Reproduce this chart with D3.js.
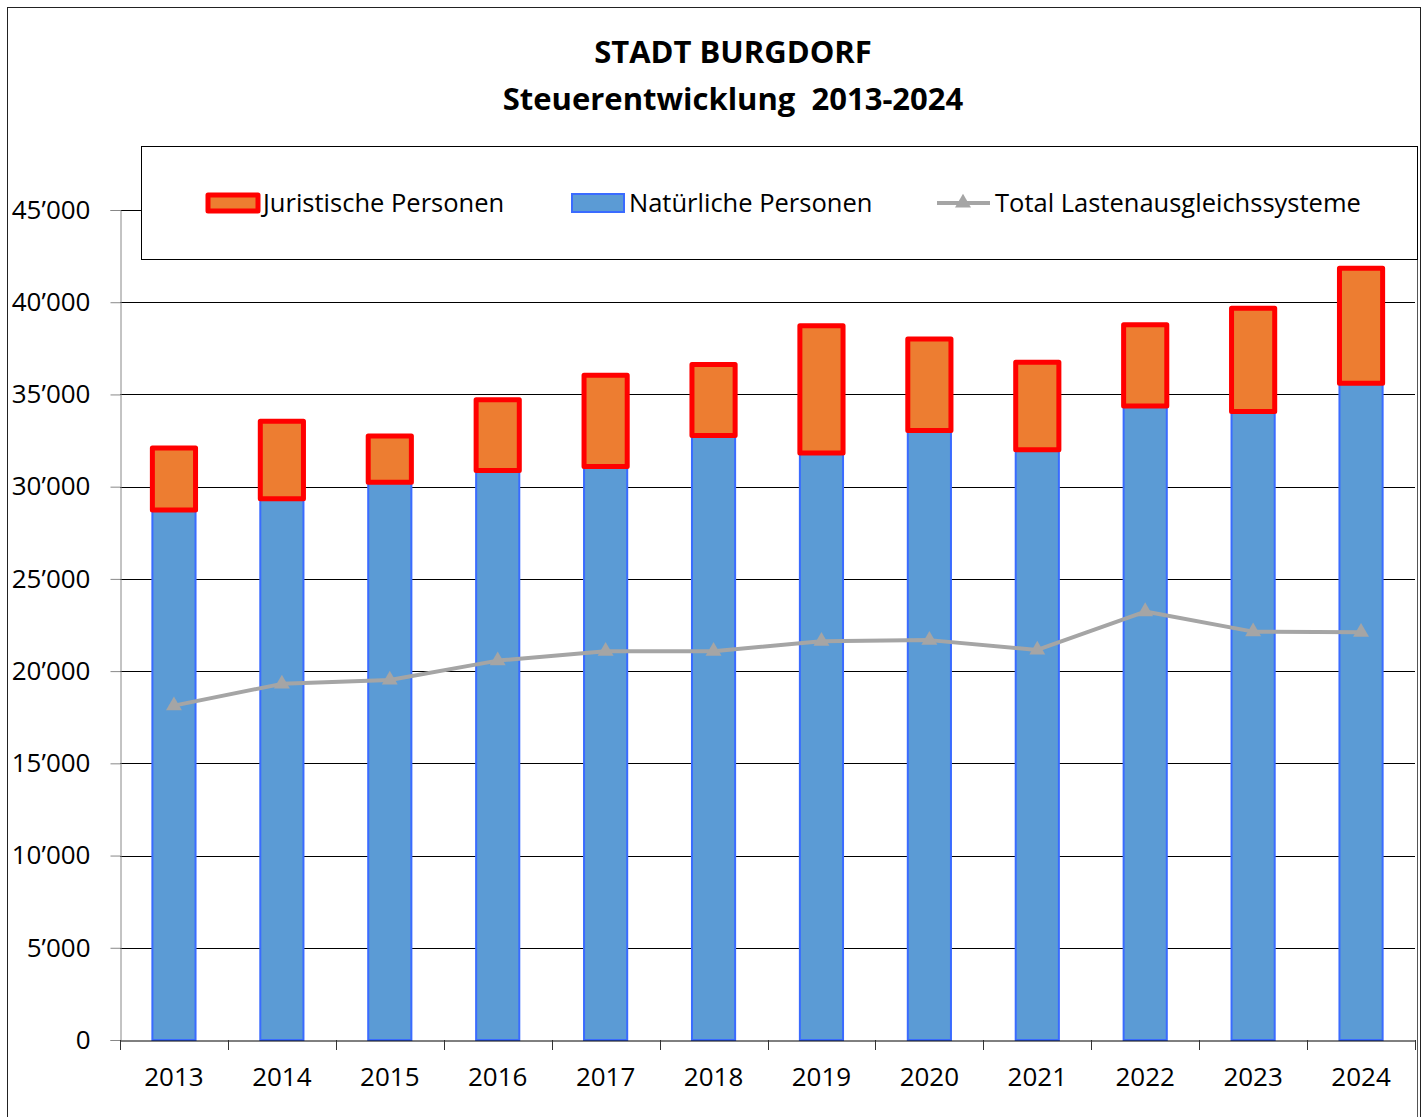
<!DOCTYPE html>
<html><head><meta charset="utf-8">
<script src="https://cdn.jsdelivr.net/npm/d3@7"></script>
<style>body{margin:0;background:#fff}svg{display:block}text{font-family:"Open Sans",sans-serif}</style>
</head><body>
<svg id="c" width="1427" height="1117"></svg>
<script>
const years = ["2013","2014","2015","2016","2017","2018","2019","2020","2021","2022","2023","2024"];
const natuerliche = [28740,29350,30240,30870,31090,32770,31820,33040,32000,34380,34070,35610];
const juristische = [3360,4190,2510,3840,4950,3860,6910,4960,4740,4400,5600,6230];
const lastenausgleich = [18130,19310,19520,20570,21080,21080,21620,21680,21150,23230,22140,22110];
const yTicks = [0,5000,10000,15000,20000,25000,30000,35000,40000,45000];
const seriesNames = ["Juristische Personen","Natürliche Personen","Total Lastenausgleichssysteme"];
const titleLines = ["STADT BURGDORF","Steuerentwicklung  2013-2024"];

const svg = d3.select("#c");
const L = 120, R = 1415, T = 210, B = 1040;
const x = d3.scaleBand().domain(years).range([L, R]).paddingInner(0.6).paddingOuter(0.3);
const y = d3.scaleLinear().domain([0,45000]).range([B, T]);
const fmt = v => v === 0 ? "0" : d3.format(",")(v).replace(/,/g, "\u2019");

// outer frame
svg.append("rect").attr("x",7.5).attr("y",7.5).attr("width",1413).attr("height",1120)
  .attr("fill","none").attr("stroke","#222").attr("stroke-width",1);
svg.append("line").attr("x1",1417.5).attr("x2",1417.5).attr("y1",146).attr("y2",1117).attr("stroke","#555");

// title
svg.append("g").selectAll("text").data(titleLines).join("text")
  .attr("x",733).attr("y",(d,i)=>63+i*47).attr("text-anchor","middle")
  .attr("font-size",31).attr("font-weight","bold").attr("fill","#000").style("white-space","pre").text(d=>d);

// gridlines
svg.append("g").selectAll("line").data(yTicks.filter(d=>d>0)).join("line")
  .attr("x1",L).attr("x2",R).attr("y1",d=>Math.round(y(d))+0.5).attr("y2",d=>Math.round(y(d))+0.5)
  .attr("stroke","#000").attr("stroke-width",1);

// y axis
const ya = svg.append("g").attr("transform",`translate(${L+0.5},0)`)
  .call(d3.axisLeft(y).tickValues(yTicks).tickFormat(fmt).tickSize(10).tickPadding(20));
ya.select(".domain").attr("stroke","#888");
ya.selectAll(".tick line").attr("stroke","#888");
ya.selectAll("text").attr("font-size",26).attr("fill","#000").attr("font-family","Open Sans");

// bars
const g = svg.append("g");
g.selectAll("rect.n").data(years).join("rect").attr("class","n")
  .attr("x",d=>x(d)).attr("width",x.bandwidth())
  .attr("y",(d,i)=>y(natuerliche[i])).attr("height",(d,i)=>y(0)-y(natuerliche[i]))
  .attr("fill","#5B9BD5").attr("stroke","#3A6BFF").attr("stroke-width",2);
g.selectAll("rect.j").data(years).join("rect").attr("class","j")
  .attr("x",d=>x(d)).attr("width",x.bandwidth())
  .attr("y",(d,i)=>y(natuerliche[i]+juristische[i])).attr("height",(d,i)=>y(natuerliche[i])-y(natuerliche[i]+juristische[i]))
  .attr("fill","#ED7D31").attr("stroke","#FF0000").attr("stroke-width",5).attr("stroke-linejoin","round");

// x axis
const xa = svg.append("g").attr("transform",`translate(0,${B+0.5})`)
  .call(d3.axisBottom(x).tickSize(0).tickPadding(27));
xa.select(".domain").attr("stroke","#000");
xa.selectAll("text").attr("font-size",26).attr("fill","#000").attr("font-family","Open Sans");
const bounds = years.map(d=>x(d)-x.step()*x.paddingInner()/2).concat([R]);
bounds[0] = L;
svg.append("g").selectAll("line").data(bounds).join("line")
  .attr("x1",d=>Math.round(d)+0.5).attr("x2",d=>Math.round(d)+0.5).attr("y1",B).attr("y2",B+10)
  .attr("stroke","#333");

// line series
const cx = d => x(d) + x.bandwidth()/2;
svg.append("path").datum(years)
  .attr("d", d3.line().x(d=>cx(d)).y((d,i)=>y(lastenausgleich[i])))
  .attr("fill","none").attr("stroke","#A5A5A5").attr("stroke-width",4).attr("stroke-linejoin","round");
const tri = d3.symbol().type(d3.symbolTriangle).size(110);
svg.append("g").selectAll("path").data(years).join("path")
  .attr("transform",(d,i)=>`translate(${cx(d)},${y(lastenausgleich[i])})`)
  .attr("d",tri).attr("fill","#A5A5A5");

// legend
const lg = svg.append("g");
lg.append("rect").attr("x",141.5).attr("y",146.5).attr("width",1276).attr("height",113)
  .attr("fill","#fff").attr("stroke","#000");
const ly = 203;
lg.append("rect").attr("x",208).attr("y",195).attr("width",50).attr("height",16)
  .attr("fill","#ED7D31").attr("stroke","#FF0000").attr("stroke-width",5).attr("stroke-linejoin","round");
lg.append("rect").attr("x",572).attr("y",194).attr("width",52).attr("height",18)
  .attr("fill","#5B9BD5").attr("stroke","#3A6BFF").attr("stroke-width",2);
lg.append("line").attr("x1",937).attr("x2",990).attr("y1",ly).attr("y2",ly).attr("stroke","#A5A5A5").attr("stroke-width",4);
lg.append("path").attr("transform",`translate(963,${ly})`).attr("d",tri).attr("fill","#A5A5A5");
const lx = [263,629,995];
lg.selectAll("text").data(seriesNames).join("text")
  .attr("x",(d,i)=>lx[i]).attr("y",ly).attr("dy","0.35em").attr("font-size",25.5).attr("fill","#000").text(d=>d);
</script>
</body></html>
